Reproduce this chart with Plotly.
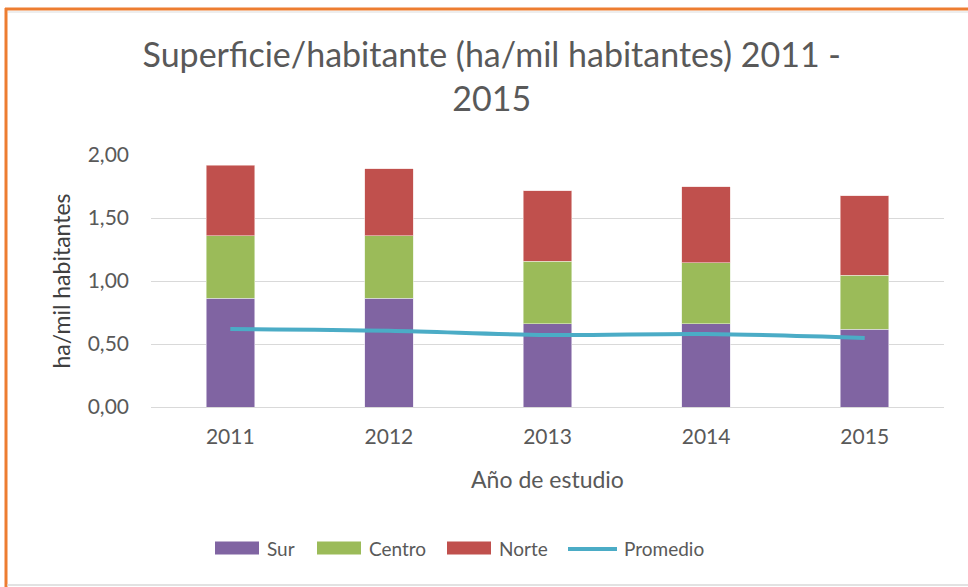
import plotly.graph_objects as go

years = ["2011", "2012", "2013", "2014", "2015"]
sur = [0.865, 0.865, 0.661, 0.661, 0.619]
centro = [0.495, 0.495, 0.495, 0.484, 0.426]
norte = [0.560, 0.529, 0.561, 0.604, 0.632]
promedio = [0.619, 0.605, 0.571, 0.579, 0.548]

series_names = ["Sur", "Centro", "Norte", "Promedio"]
series_colors = ["#8064A2", "#9BBB59", "#C0504D", "#4BACC6"]

FONT = "Lato"
GRAY = "#595959"

fig = go.Figure()
fig.add_trace(go.Bar(name="Sur", x=years, y=sur, marker=dict(color=series_colors[0], line=dict(color="#E6E0EE", width=0.6))))
fig.add_trace(go.Bar(name="Centro", x=years, y=centro, marker=dict(color=series_colors[1], line=dict(color="#E3EED3", width=0.6))))
fig.add_trace(go.Bar(name="Norte", x=years, y=norte, marker=dict(color=series_colors[2], line=dict(color="#F2D7D6", width=0.6))))
fig.add_trace(go.Scatter(name="Promedio", x=years, y=promedio, mode="lines",
                         line=dict(color=series_colors[3], width=4, shape="spline")))

W, H = 968, 587
l, r, t, b = 151, 24, 155, 180
pw, ph = W - l - r, H - t - b

fig.update_layout(
    width=W, height=H,
    barmode="stack", bargap=0.694,
    separators=",.",
    showlegend=False,
    paper_bgcolor="white", plot_bgcolor="white",
    margin=dict(l=l, r=r, t=t, b=b),
    font=dict(family=FONT, color=GRAY, size=18),
    title=dict(text="Superficie/habitante (ha/mil habitantes) 2011 -<br>2015",
               x=0.508, xref="container", xanchor="center",
               y=0.886, yref="container", yanchor="top",
               font=dict(family=FONT, size=34, color=GRAY)),
    xaxis=dict(title=dict(text="Año de estudio", font=dict(size=23, color=GRAY), standoff=24),
               tickfont=dict(size=21, color=GRAY), ticklabelstandoff=15,
               showgrid=False, showline=False, ticks=""),
    yaxis=dict(title=dict(text="ha/mil habitantes", font=dict(size=23, color="#404040"), standoff=10),
               range=[0, 2], dtick=0.5, tickformat=".2f",
               tickfont=dict(size=21, color=GRAY), ticklabelstandoff=21,
               showgrid=True, gridcolor="#D9D9D9", gridwidth=1.3,
               zeroline=True, zerolinecolor="#D9D9D9", zerolinewidth=1.3, ticks=""),
)

def px(x):
    return (x - l) / pw
def py(y):
    return (H - b - y) / ph

# chart frame
fig.add_shape(type="line", xref="paper", yref="paper", x0=px(5), x1=px(968), y0=py(9), y1=py(9),
              line=dict(color="#ED7D31", width=3))
fig.add_shape(type="line", xref="paper", yref="paper", x0=px(6), x1=px(6), y0=py(8), y1=py(587),
              line=dict(color="#ED7D31", width=3))
fig.add_shape(type="line", xref="paper", yref="paper", x0=px(7), x1=px(968), y0=py(585), y1=py(585),
              line=dict(color="#D9D9D9", width=1.5))
fig.add_shape(type="line", xref="paper", yref="paper", x0=px(8), x1=px(968), y0=py(12), y1=py(12),
              line=dict(color="#E8E8E8", width=1.5))

# legend (Excel-style wide swatches)
legend_swatch_x = [215, 317, 447, 568]
legend_y = 548
for i, (name, col) in enumerate(zip(series_names, series_colors)):
    x0 = legend_swatch_x[i]
    if name == "Promedio":
        fig.add_shape(type="line", xref="paper", yref="paper",
                      x0=px(x0), x1=px(x0 + 49), y0=py(legend_y + 1), y1=py(legend_y + 1),
                      line=dict(color=col, width=4))
        tx = x0 + 54
    else:
        fig.add_shape(type="rect", xref="paper", yref="paper",
                      x0=px(x0), x1=px(x0 + 44), y0=py(legend_y - 6.5), y1=py(legend_y + 6.5),
                      fillcolor=col, line=dict(width=0))
        tx = x0 + 50
    fig.add_annotation(text=name, xref="paper", yref="paper", x=px(tx), y=py(legend_y),
                       xanchor="left", yanchor="middle", showarrow=False,
                       font=dict(size=19, color=GRAY, family=FONT))

fig.write_html("out.html", config={"displayModeBar": False},
               post_script="document.body.style.margin='0';document.body.style.overflow='hidden';")
